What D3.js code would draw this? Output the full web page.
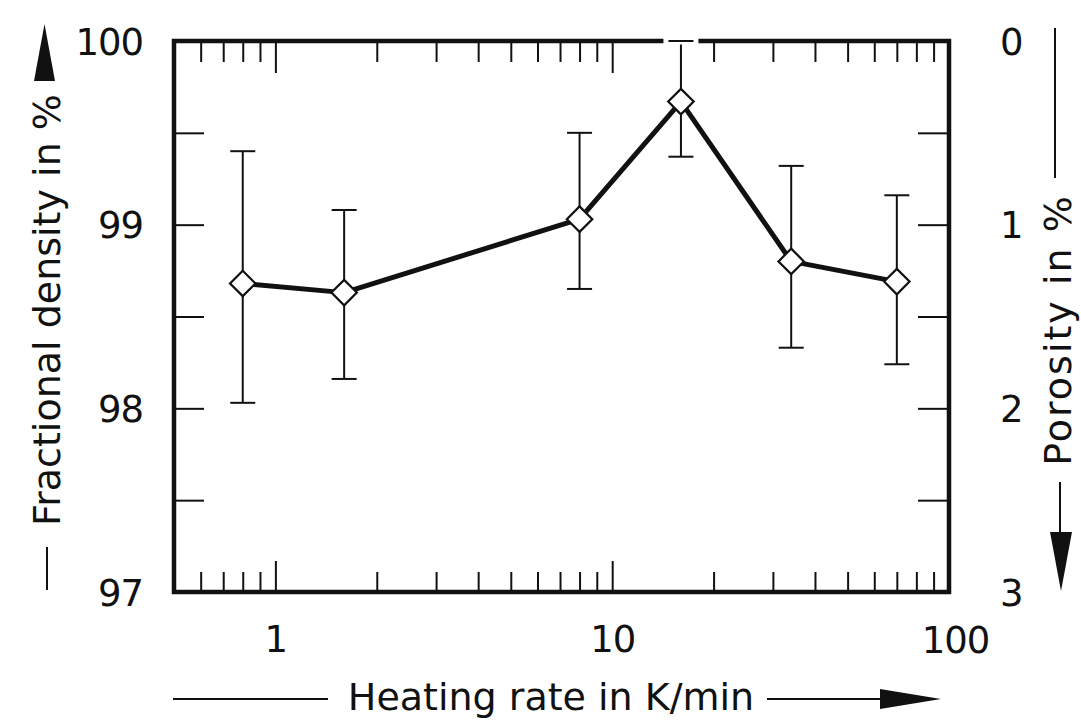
<!DOCTYPE html>
<html>
<head>
<meta charset="utf-8">
<script src="https://cdn.jsdelivr.net/npm/d3@7"></script>
<style>
  html, body { margin: 0; padding: 0; background: #fff; }
  svg { display: block; }
  text { font-family: "DejaVu Sans", sans-serif; fill: #111; }
</style>
</head>
<body>
<svg id="chart" width="1081" height="721"></svg>
<script>
// ---- data ----
const heatingRates = [0.8, 1.6, 8, 16, 34, 70];          // K/min
const densityMean  = [98.68, 98.63, 99.03, 99.67, 98.80, 98.69]; // %
const densityHigh  = [99.40, 99.08, 99.50, 100.0, 99.32, 99.16];
const densityLow   = [98.03, 98.16, 98.65, 99.37, 98.33, 98.24];
const xMajorTicks  = [1, 10, 100];
const densityTicks = [97, 98, 99, 100];
const porosityTicks = [0, 1, 2, 3];
const xTitle = "Heating rate in K/min";
const yTitleLeft = "Fractional density in %";
const yTitleRight = "Porosity in %";

// ---- layout ----
const svg = d3.select("#chart");
const L = 174, R = 949, T = 41, B = 592;
const ink = "#111";

const x = d3.scaleLog().domain([0.5, 100]).range([L, R]);
const y = d3.scaleLinear().domain([97, 100]).range([B, T]);
const yP = d3.scaleLinear().domain([3, 0]).range([B, T]);

const minorX = x.ticks().filter(v => !xMajorTicks.includes(v) && v > 0.5 && v < 100);
const halfY = d3.range(97, 100.01, 0.5).filter(v => v > 97 && v < 100 && !Number.isInteger(v));
const halfP = d3.range(0, 3.01, 0.5).filter(v => v > 0 && v < 3 && !Number.isInteger(v));

function styleAxis(g) {
  g.select(".domain").remove();
  g.selectAll("line").attr("stroke", ink).attr("stroke-width", 2);
  g.selectAll("text").style("font-size", "37px").style("letter-spacing", "-1px").attr("fill", ink);
}

// bottom axis
svg.append("g").attr("transform", `translate(0,${B})`)
  .call(d3.axisBottom(x).tickValues(minorX).tickSize(-20).tickFormat(""))
  .call(styleAxis);
svg.append("g").attr("transform", `translate(0,${B})`)
  .call(d3.axisBottom(x).tickValues(xMajorTicks.filter(v => v < 100)).tickSize(-31).tickFormat(d3.format("d")))
  .call(styleAxis)
  .call(g => g.selectAll("text").attr("y", 60).attr("dy", 0));
// label "100" at right edge
svg.append("g").attr("transform", `translate(0,${B})`)
  .call(d3.axisBottom(x).tickValues([100]).tickSize(0).tickFormat(d3.format("d")))
  .call(styleAxis)
  .call(g => g.selectAll("text").attr("y", 61).attr("dy", 0).attr("dx", 6));

// top axis
svg.append("g").attr("transform", `translate(0,${T})`)
  .call(d3.axisTop(x).tickValues(minorX).tickSize(-21).tickFormat(""))
  .call(styleAxis);
svg.append("g").attr("transform", `translate(0,${T})`)
  .call(d3.axisTop(x).tickValues(xMajorTicks.filter(v => v < 100)).tickSize(-32).tickFormat(""))
  .call(styleAxis);

// left axis
svg.append("g").attr("transform", `translate(${L},0)`)
  .call(d3.axisLeft(y).tickValues(halfY.concat(densityTicks.filter(v => v > 97 && v < 100))).tickSize(-30).tickFormat(""))
  .call(styleAxis);
svg.append("g").attr("transform", `translate(${L},0)`)
  .call(d3.axisLeft(y).tickValues(densityTicks).tickSize(0).tickPadding(31).tickFormat(d3.format("d")))
  .call(styleAxis)
  .call(g => g.selectAll("text").attr("dy", "0.36em"));

// right axis
svg.append("g").attr("transform", `translate(${R},0)`)
  .call(d3.axisRight(yP).tickValues(halfP.concat(porosityTicks.filter(v => v > 0 && v < 3))).tickSize(-31).tickFormat(""))
  .call(styleAxis);
svg.append("g").attr("transform", `translate(${R},0)`)
  .call(d3.axisRight(yP).tickValues(porosityTicks).tickSize(0).tickPadding(51).tickFormat(d3.format("d")))
  .call(styleAxis)
  .call(g => g.selectAll("text").attr("dy", "0.36em"));

// frame
svg.append("rect").attr("x", L).attr("y", T).attr("width", R - L).attr("height", B - T)
  .attr("fill", "none").attr("stroke", ink).attr("stroke-width", 4.5);

// data
const data = heatingRates.map((r, i) => ({ r, m: densityMean[i], hi: densityHigh[i], lo: densityLow[i] }));
const capW = 12.5;

const eb = svg.append("g");
data.forEach(d => {
  eb.append("line").attr("x1", x(d.r)).attr("x2", x(d.r)).attr("y1", y(d.hi)).attr("y2", y(d.lo))
    .attr("stroke", ink).attr("stroke-width", 2);
  [d.hi, d.lo].forEach(v => {
    if (Math.abs(y(v) - T) < 1 || Math.abs(y(v) - B) < 1) {
      eb.append("line").attr("x1", x(d.r) - capW - 5).attr("x2", x(d.r) + capW + 5)
        .attr("y1", y(v)).attr("y2", y(v)).attr("stroke", "#fff").attr("stroke-width", 7);
    }
    eb.append("line").attr("x1", x(d.r) - capW).attr("x2", x(d.r) + capW)
      .attr("y1", y(v)).attr("y2", y(v)).attr("stroke", ink).attr("stroke-width", 2);
  });
});

svg.append("path").datum(data)
  .attr("d", d3.line().x(d => x(d.r)).y(d => y(d.m)))
  .attr("fill", "none").attr("stroke", ink).attr("stroke-width", 5).attr("stroke-linejoin", "round");

svg.append("g").selectAll("path").data(data).join("path")
  .attr("d", d3.symbol().type(d3.symbolSquare).size(18 * 18))
  .attr("transform", d => `translate(${x(d.r)},${y(d.m)}) rotate(45)`)
  .attr("fill", "#fff").attr("stroke", ink).attr("stroke-width", 2.2);

// titles
const titleSize = "38px";
svg.append("text").attr("x", 551).attr("y", 710).attr("text-anchor", "middle")
  .style("font-size", titleSize).text(xTitle);
svg.append("line").attr("x1", 173).attr("x2", 328).attr("y1", 699).attr("y2", 699).attr("stroke", ink).attr("stroke-width", 2);
svg.append("line").attr("x1", 767).attr("x2", 884).attr("y1", 699).attr("y2", 699).attr("stroke", ink).attr("stroke-width", 2);
svg.append("path").attr("d", "M880,689 L941,699 L880,709 Z").attr("fill", ink);

svg.append("text").attr("transform", "translate(60,310) rotate(-90)").attr("text-anchor", "middle")
  .style("font-size", titleSize).text(yTitleLeft);
svg.append("line").attr("x1", 47).attr("x2", 47).attr("y1", 547).attr("y2", 590).attr("stroke", ink).attr("stroke-width", 2);
svg.append("path").attr("d", "M34,81 L44.5,24 L55,81 Z").attr("fill", ink);

svg.append("text").attr("transform", "translate(1071,330) rotate(-90)").attr("text-anchor", "middle")
  .style("font-size", titleSize).style("letter-spacing", "2px").text(yTitleRight);
svg.append("line").attr("x1", 1055).attr("x2", 1055).attr("y1", 28).attr("y2", 178).attr("stroke", ink).attr("stroke-width", 2);
svg.append("line").attr("x1", 1060).attr("x2", 1060).attr("y1", 482).attr("y2", 535).attr("stroke", ink).attr("stroke-width", 2);
svg.append("path").attr("d", "M1050,532 L1061,591 L1072,532 Z").attr("fill", ink);
</script>
</body>
</html>
